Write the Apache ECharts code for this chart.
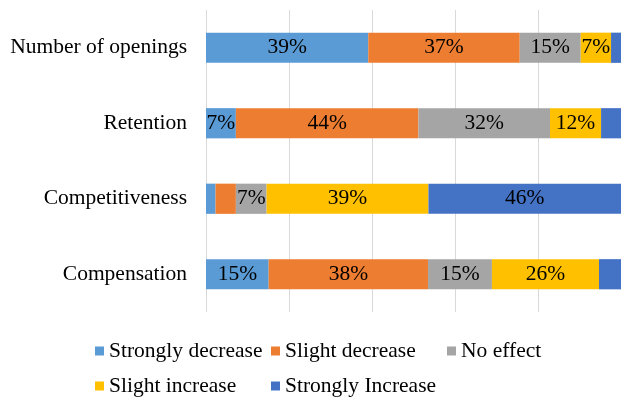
<!DOCTYPE html>
<html>
<head>
	<meta charset="utf-8">
	<script type="text/javascript" src="https://cdn.jsdelivr.net/npm/echarts@6/dist/echarts.min.js"></script>
</head>
<body style="margin:0">

<div id="main" style="width:621px;height:397px;"></div>

<script type="text/javascript">
  var categories = ['Number of openings', 'Retention', 'Competitiveness', 'Compensation'];
  var seriesNames = ['Strongly decrease', 'Slight decrease', 'No effect', 'Slight increase', 'Strongly Increase'];
  // percentages per category
  var stronglyDecrease = [39.1, 7.2, 2.3, 15.1];
  var slightDecrease = [36.5, 44.0, 4.9, 38.4];
  var noEffect = [14.7, 31.7, 7.4, 15.4];
  var slightIncrease = [7.3, 12.3, 39.0, 25.8];
  var stronglyIncrease = [2.4, 4.8, 46.4, 5.3];
  var colors = ['#5B9BD5', '#ED7D31', '#A5A5A5', '#FFC000', '#4472C4'];

  var font = 'Liberation Serif';
  var fontSize = 21.5;
  var myChart = echarts.init(document.getElementById('main'));

  function makeSeries(name, data) {
    return {
      name: name,
      type: 'bar',
      stack: 'all',
      barWidth: '40%',
      data: data,
      label: {
        show: true,
        color: '#000',
        fontFamily: font,
        fontSize: fontSize,
        formatter: function (p) {
          // small slices carry no label in the original
          return p.value >= 6 ? Math.round(p.value) + '%' : '';
        }
      }
    };
  }

  var allData = [stronglyDecrease, slightDecrease, noEffect, slightIncrease, stronglyIncrease];
  var series = [];
  for (var i = 0; i < seriesNames.length; i++) {
    series.push(makeSeries(seriesNames[i], allData[i]));
  }

  // legend is laid out as a grid in the original: one legend per cell
  var legendPos = [[90, 335], [266, 335], [442, 335], [90, 370], [266, 370]];
  var legends = [];
  for (var j = 0; j < seriesNames.length; j++) {
    legends.push({
      left: legendPos[j][0],
      top: legendPos[j][1],
      data: [seriesNames[j]],
      itemWidth: 9,
      itemHeight: 9,
      icon: 'rect',
      textStyle: { fontFamily: font, fontSize: fontSize, color: '#000' }
    });
  }

  var option = {
    color: colors,
    animation: false,
    grid: { left: 206, right: -3, top: 10, bottom: 85 },
    legend: legends,
    xAxis: {
      type: 'value',
      min: 0,
      max: 100,
      interval: 20,
      axisLabel: { show: false },
      axisLine: { show: false },
      axisTick: { show: false },
      splitLine: { lineStyle: { color: '#d9d9d9', width: 1 } }
    },
    yAxis: {
      type: 'category',
      inverse: true,
      data: categories,
      axisLine: { show: false },
      axisTick: { show: false },
      axisLabel: { color: '#000', fontFamily: font, fontSize: fontSize, margin: 19 }
    },
    series: series
  };

  myChart.setOption(option);
</script>
</body>
</html>
